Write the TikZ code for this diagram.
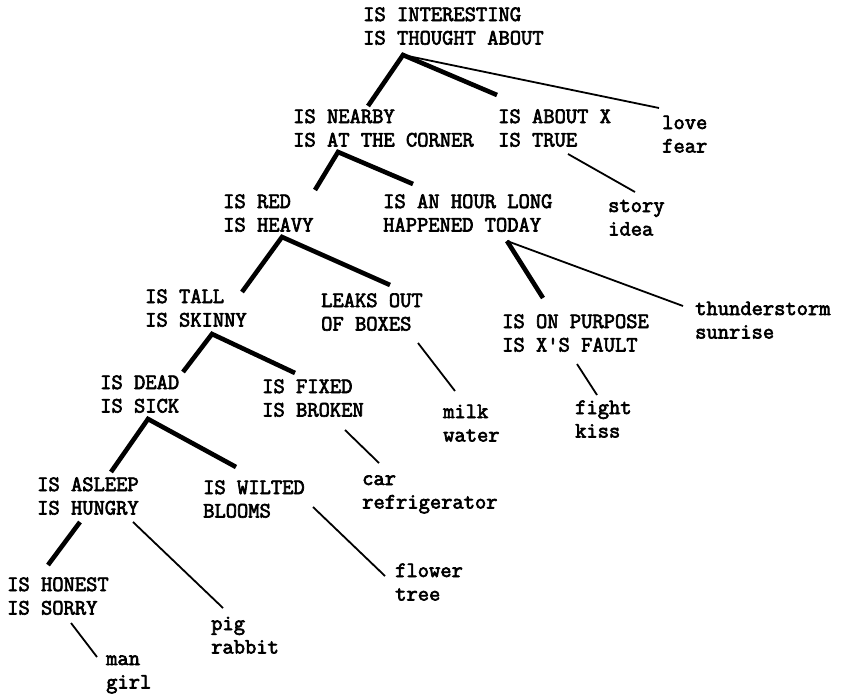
\documentclass[tikz,border=0pt]{standalone}
\usepackage{fontspec}
\newfontfamily\cour{Latin Modern Mono}[FakeBold=3]
\begin{document}
\begin{tikzpicture}[x=1pt,y=-1pt,
  lbl/.style={anchor=base west,yshift=-23.5pt,inner sep=0pt,align=left,font=\cour\bfseries\fontsize{21.9}{23.5}\selectfont},
  heavyline/.style={line width=4.6pt},
  lightline/.style={line width=1.8pt}]
\useasboundingbox (0,0) rectangle (853,696);
% nodes
\node[lbl] (root) at (363,21) {IS INTERESTING\\IS THOUGHT ABOUT};
\node[lbl] (nearby) at (293,123) {IS NEARBY\\IS AT THE CORNER};
\node[lbl] (aboutx) at (498,123) {IS ABOUT X\\IS TRUE};
\node[lbl] (love) at (662,129) {love\\fear};
\node[lbl] (red) at (223,208) {IS RED\\IS HEAVY};
\node[lbl] (hour) at (383,208) {IS AN HOUR LONG\\HAPPENED TODAY};
\node[lbl] (story) at (608,212) {story\\idea};
\node[lbl] (tall) at (145,303) {IS TALL\\IS SKINNY};
\node[lbl] (leaks) at (321,307) {LEAKS OUT\\OF BOXES};
\node[lbl] (purpose) at (502,328) {IS ON PURPOSE\\IS X'S FAULT};
\node[lbl] (thunder) at (695,315) {thunderstorm\\sunrise};
\node[lbl] (dead) at (100,389) {IS DEAD\\IS SICK};
\node[lbl] (fixed) at (262,393) {IS FIXED\\IS BROKEN};
\node[lbl] (milk) at (443,418) {milk\\water};
\node[lbl] (fight) at (575,414) {fight\\kiss};
\node[lbl] (asleep) at (37,491) {IS ASLEEP\\IS HUNGRY};
\node[lbl] (wilted) at (203,494) {IS WILTED\\BLOOMS};
\node[lbl] (car) at (362,485) {car\\refrigerator};
\node[lbl] (honest) at (7,591) {IS HONEST\\IS SORRY};
\node[lbl] (flower) at (395,577) {flower\\tree};
\node[lbl] (pig) at (211,630) {pig\\rabbit};
\node[lbl] (man) at (106,665) {man\\girl};
% connector end points
\coordinate (rootJ) at (403,55);
\coordinate (nearbyT) at (368,106);
\coordinate (aboutxT) at (497,95);
\coordinate (loveT) at (659,108);
\coordinate (aboutxJ) at (568,154);
\coordinate (storyT) at (635,192);
\coordinate (nearbyJ) at (338,152);
\coordinate (redT) at (315,190);
\coordinate (hourT) at (413,184);
\coordinate (redJ) at (282,237);
\coordinate (tallT) at (242,292);
\coordinate (leaksT) at (390,285);
\coordinate (hourJ) at (507,241);
\coordinate (purposeT) at (543,298);
\coordinate (thunderT) at (683,306);
\coordinate (leaksJ) at (418,343);
\coordinate (milkT) at (455,391);
\coordinate (purposeJ) at (577,364);
\coordinate (fightT) at (597,395);
\coordinate (tallJ) at (212,334);
\coordinate (deadT) at (183,372);
\coordinate (fixedT) at (295,373);
\coordinate (deadJ) at (148,419);
\coordinate (asleepT) at (111,472);
\coordinate (wiltedT) at (236,467);
\coordinate (fixedJ) at (345,430);
\coordinate (carT) at (379,463);
\coordinate (asleepJ) at (80,522);
\coordinate (honestT) at (48,565);
\coordinate (asleepK) at (133,522);
\coordinate (pigT) at (223,608);
\coordinate (wiltedJ) at (313,507);
\coordinate (flowerT) at (385,576);
\coordinate (honestJ) at (71,623);
\coordinate (manT) at (97,657);
% connectors
\draw[heavyline] (nearbyT) -- (rootJ) -- (aboutxT);
\draw[lightline] (rootJ) -- (loveT);
\draw[lightline] (aboutxJ) -- (storyT);
\draw[heavyline] (redT) -- (nearbyJ) -- (hourT);
\draw[heavyline] (tallT) -- (redJ) -- (leaksT);
\draw[heavyline] (hourJ) -- (purposeT);
\draw[lightline] (hourJ) -- (thunderT);
\draw[lightline] (leaksJ) -- (milkT);
\draw[lightline] (purposeJ) -- (fightT);
\draw[heavyline] (deadT) -- (tallJ) -- (fixedT);
\draw[heavyline] (asleepT) -- (deadJ) -- (wiltedT);
\draw[lightline] (fixedJ) -- (carT);
\draw[heavyline] (asleepJ) -- (honestT);
\draw[lightline] (asleepK) -- (pigT);
\draw[lightline] (wiltedJ) -- (flowerT);
\draw[lightline] (honestJ) -- (manT);
\end{tikzpicture}
\end{document}
